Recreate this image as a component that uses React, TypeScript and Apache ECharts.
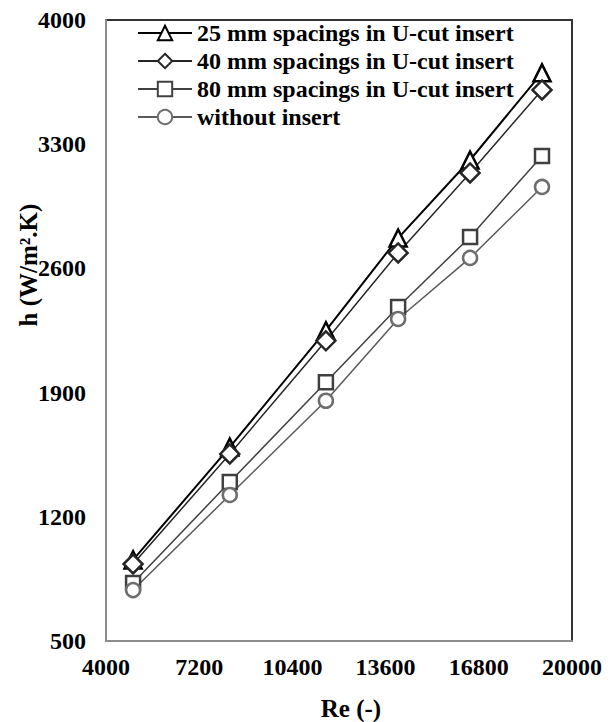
import React, { useEffect, useRef } from "react";
import * as echarts from "echarts";

const reynolds = [4930, 8250, 11550, 14030, 16500, 18970];
const h25mm = [957, 1593, 2249, 2771, 3211, 3702];
const h40mm = [934, 1554, 2192, 2687, 3138, 3606];
const h80mm = [827, 1396, 1958, 2382, 2777, 3234];
const hPlain = [787, 1323, 1854, 2315, 2659, 3059];

const seriesNames = [
  "25 mm spacings in U-cut insert",
  "40 mm spacings in U-cut insert",
  "80 mm spacings in U-cut insert",
  "without insert",
];

const FONT = "Liberation Serif";

export default function App() {
  const ref = useRef<HTMLDivElement>(null);
  useEffect(() => {
    const chart = echarts.init(ref.current!, null, { renderer: "svg" });
    const mk = (
      name: string,
      vals: number[],
      symbol: string,
      size: number,
      color: string,
      lineColor: string,
      lw: number
    ) => ({
      name,
      type: "line",
      data: reynolds.map((x, i) => [x, vals[i]]),
      symbol,
      symbolSize: size,
      showAllSymbol: true,
      lineStyle: { color: lineColor, width: lw },
      itemStyle: { color: "#ffffff", borderColor: color, borderWidth: 2.5 },
      emphasis: { disabled: true },
    });
    const txt = {
      fontFamily: FONT,
      fontWeight: "bold",
      fontSize: 24,
      color: "#000000",
    };
    chart.setOption({
      animation: false,
      backgroundColor: "#ffffff",
      textStyle: { fontFamily: FONT },
      grid: {
        left: 106,
        top: 20,
        width: 466,
        height: 621,
        show: true,
        borderColor: "#333333",
        borderWidth: 2,
        backgroundColor: "#ffffff",
      },
      legend: {
        orient: "vertical",
        left: 137,
        top: 21,
        padding: 0,
        itemWidth: 54,
        itemHeight: 18,
        itemGap: 4,
        selectedMode: false,
        textStyle: { ...txt },
        data: seriesNames,
      },
      xAxis: {
        type: "value",
        min: 4000,
        max: 20000,
        interval: 3200,
        splitLine: { show: false },
        axisTick: { show: false },
        axisLine: { show: true, lineStyle: { color: "#8c8c8c", width: 2 } },
        axisLabel: {
          ...txt,
          margin: 14,
          formatter: (v: number) => String(v),
        },
      },
      yAxis: {
        type: "value",
        min: 500,
        max: 4000,
        interval: 700,
        splitLine: { show: false },
        axisTick: { show: false },
        axisLine: { show: true, lineStyle: { color: "#8c8c8c", width: 2 } },
        axisLabel: {
          ...txt,
          margin: 20,
          formatter: (v: number) => String(v),
        },
      },
      graphic: [
        {
          type: "text",
          x: 28,
          y: 265,
          rotation: Math.PI / 2,
          style: {
            text: "h (W/m².K)",
            fontFamily: FONT,
            fontWeight: "bold",
            fontSize: 25,
            fill: "#000000",
            align: "center",
            verticalAlign: "middle",
          },
        },
        {
          type: "text",
          x: 351,
          y: 708,
          style: {
            text: "Re (-)",
            fontFamily: FONT,
            fontWeight: "bold",
            fontSize: 25,
            fill: "#000000",
            align: "center",
            verticalAlign: "middle",
          },
        },
      ],
      series: [
        mk(seriesNames[0], h25mm, "triangle", 17, "#000000", "#000000", 2),
        mk(seriesNames[1], h40mm, "diamond", 19, "#262626", "#262626", 1.5),
        mk(seriesNames[2], h80mm, "rect", 14, "#404040", "#404040", 1.5),
        mk(seriesNames[3], hPlain, "circle", 14, "#6e6e6e", "#5a5a5a", 1.5),
      ],
    });
    return () => chart.dispose();
  }, []);
  return (
    <div
      ref={ref}
      style={{ position: "absolute", left: 0, top: 0, width: 612, height: 722 }}
    />
  );
}
